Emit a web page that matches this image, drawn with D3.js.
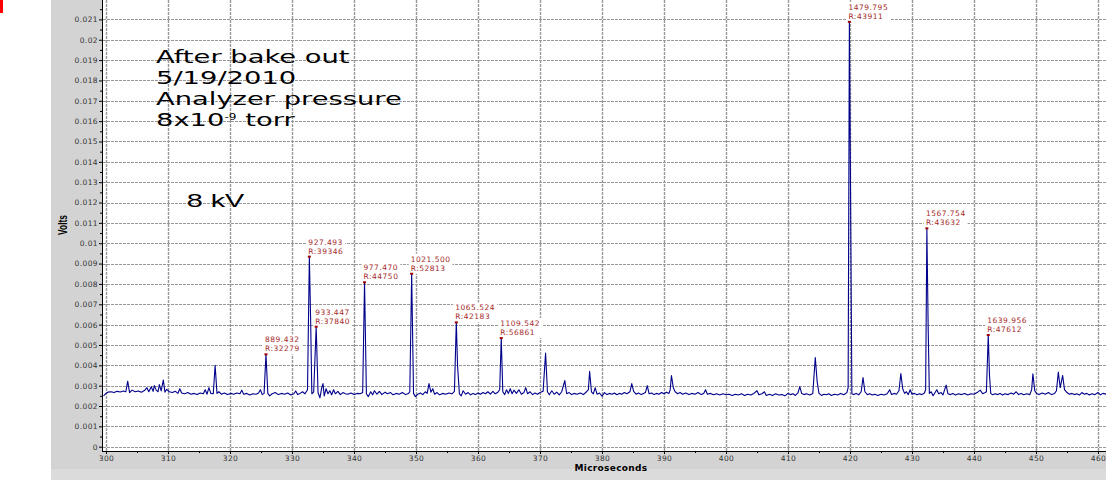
<!DOCTYPE html>
<html>
<head>
<meta charset="utf-8">
<script src="https://cdnjs.cloudflare.com/ajax/libs/d3/7.8.5/d3.min.js"></script>
<style>
  body { margin: 0; background: #fff; }
  text { font-family: "DejaVu Sans", Verdana, sans-serif; }
</style>
</head>
<body>
<div id="chart"></div>
<script>
// tick values of the two axes
const xTicks = [300, 310, 320, 330, 340, 350, 360, 370, 380, 390, 400, 410, 420, 430, 440, 450, 460];
const yTicks = [0, 0.001, 0.002, 0.003, 0.004, 0.005, 0.006, 0.007, 0.008, 0.009, 0.01,
  0.011, 0.012, 0.013, 0.014, 0.015, 0.016, 0.017, 0.018, 0.019, 0.02, 0.021];

// labelled peaks (time in microseconds, height in volts)
const peakTimes = [325.8, 332.8, 333.9, 341.7, 349.3, 356.5, 363.75, 419.9, 432.4, 442.3];
const peakVolts = [0.00454, 0.00934, 0.0059, 0.00808, 0.0085, 0.00611, 0.00534, 0.02088, 0.01073, 0.00549];
const peakMass = ['889.432', '927.493', '933.447', '977.470', '1021.500', '1065.524', '1109.542', '1479.795', '1567.754', '1639.956'];
const peakRes = ['R:32279', 'R:39346', 'R:37840', 'R:44750', 'R:52813', 'R:42183', 'R:56861', 'R:43911', 'R:43632', 'R:47612'];

// the trace: [microseconds, millivolts]
const trace = [
  [299.6, 2.50], [300.0, 2.62], [300.3, 2.68], [300.8, 2.70], [301.3, 2.66], [301.8, 2.72], [302.3, 2.69],
  [302.8, 2.74], [303.2, 2.70], [303.5, 3.22], [303.8, 2.66], [304.2, 2.78], [304.7, 2.70], [305.2, 2.74],
  [305.7, 2.68], [306.2, 2.76], [306.6, 2.90], [306.9, 2.70], [307.3, 2.95], [307.6, 2.72], [307.8, 3.00],
  [308.1, 2.78], [308.4, 2.70], [308.6, 3.05], [308.9, 2.74], [309.25, 3.28], [309.5, 2.68], [309.8, 2.82],
  [310.2, 2.70], [310.7, 2.66], [311.2, 2.72], [311.6, 2.62], [311.9, 2.85], [312.2, 2.64], [312.7, 2.60],
  [313.2, 2.66], [313.7, 2.58], [314.2, 2.62], [314.7, 2.56], [315.2, 2.64], [315.7, 2.60], [316.0, 2.80],
  [316.3, 2.58], [316.6, 2.90], [316.9, 2.62], [317.3, 2.60], [317.6, 4.00], [317.9, 2.62], [318.2, 2.70],
  [318.6, 2.58], [319.1, 2.64], [319.6, 2.56], [320.1, 2.62], [320.6, 2.58], [321.1, 2.64], [321.6, 2.60],
  [321.9, 2.78], [322.2, 2.58], [322.7, 2.62], [323.2, 2.54], [323.7, 2.60], [324.2, 2.58], [324.6, 2.64],
  [324.9, 2.80], [325.2, 2.56], [325.5, 2.62], [325.8, 4.54], [326.1, 2.62], [326.4, 2.50], [326.8, 2.60],
  [327.3, 2.66], [327.8, 2.56], [328.3, 2.62], [328.8, 2.58], [329.3, 2.64], [329.8, 2.54], [330.3, 2.60],
  [330.6, 2.74], [330.9, 2.56], [331.3, 2.62], [331.7, 2.70], [332.1, 2.60], [332.5, 2.80], [332.8, 9.34],
  [333.0, 6.30], [333.2, 2.60], [333.5, 2.70], [333.9, 5.90], [334.2, 2.65], [334.5, 2.40], [334.8, 2.90],
  [335.0, 3.10], [335.2, 2.50], [335.5, 2.85], [335.8, 2.60], [336.1, 2.75], [336.4, 2.55], [336.7, 2.80],
  [337.0, 2.60], [337.4, 2.72], [337.8, 2.56], [338.2, 2.66], [338.6, 2.60], [339.0, 2.58], [339.5, 2.64],
  [340.0, 2.56], [340.5, 2.62], [341.0, 2.60], [341.4, 2.66], [341.7, 8.08], [342.0, 2.60], [342.3, 2.46],
  [342.7, 2.70], [343.0, 2.55], [343.3, 2.75], [343.7, 2.58], [344.1, 2.72], [344.5, 2.56], [345.0, 2.68],
  [345.4, 2.60], [345.9, 2.66], [346.3, 2.55], [346.8, 2.62], [347.3, 2.58], [347.8, 2.66], [348.3, 2.56],
  [348.8, 2.62], [349.0, 2.70], [349.3, 8.50], [349.6, 2.62], [349.9, 2.46], [350.3, 2.58], [350.7, 2.64],
  [351.1, 2.56], [351.5, 2.70], [351.8, 2.62], [352.1, 3.10], [352.4, 2.68], [352.7, 2.85], [353.0, 2.58],
  [353.4, 2.66], [353.8, 2.55], [354.3, 2.62], [354.8, 2.58], [355.3, 2.64], [355.8, 2.60], [356.2, 2.72],
  [356.5, 6.11], [356.7, 4.00], [357.0, 2.60], [357.3, 2.50], [357.6, 2.75], [358.0, 2.58], [358.4, 2.66],
  [358.8, 2.55], [359.2, 2.62], [359.6, 2.56], [360.0, 2.64], [360.4, 2.58], [360.8, 2.66], [361.2, 2.60],
  [361.6, 2.70], [362.0, 2.58], [362.4, 2.72], [362.8, 2.60], [363.2, 2.68], [363.5, 2.80], [363.75, 5.34],
  [364.0, 2.70], [364.3, 2.56], [364.6, 2.80], [364.9, 2.62], [365.2, 2.85], [365.5, 2.60], [365.8, 2.78],
  [366.2, 2.62], [366.6, 2.80], [367.0, 2.58], [367.4, 2.66], [367.7, 2.90], [368.0, 2.60], [368.4, 2.70],
  [368.8, 2.56], [369.2, 2.64], [369.6, 2.58], [370.0, 2.66], [370.5, 2.72], [370.9, 4.60], [371.2, 2.70],
  [371.5, 2.55], [371.9, 2.75], [372.3, 2.58], [372.7, 2.68], [373.1, 2.55], [373.5, 2.70], [374.0, 3.25],
  [374.3, 2.60], [374.7, 2.66], [375.1, 2.56], [375.5, 2.62], [376.0, 2.58], [376.5, 2.64], [377.0, 2.56],
  [377.5, 2.70], [377.8, 2.80], [378.0, 3.70], [378.3, 2.70], [378.6, 2.60], [378.9, 2.90], [379.2, 2.58],
  [379.6, 2.64], [380.0, 2.48], [380.4, 2.66], [380.8, 2.56], [381.2, 2.62], [381.6, 2.58], [382.0, 2.64],
  [382.4, 2.55], [382.8, 2.62], [383.2, 2.58], [383.6, 2.66], [384.0, 2.60], [384.5, 2.70], [384.8, 3.10],
  [385.1, 2.72], [385.5, 2.58], [385.9, 2.64], [386.3, 2.56], [386.7, 2.62], [387.0, 2.66], [387.3, 3.00],
  [387.6, 2.60], [388.0, 2.64], [388.4, 2.56], [388.8, 2.62], [389.2, 2.58], [389.6, 2.66], [390.0, 2.60],
  [390.4, 2.68], [390.8, 2.62], [391.0, 2.80], [391.2, 3.50], [391.5, 2.90], [391.8, 2.70], [392.2, 2.60],
  [392.6, 2.66], [393.0, 2.58], [393.5, 2.64], [394.0, 2.56], [394.5, 2.62], [395.0, 2.58], [395.5, 2.66],
  [396.0, 2.56], [396.4, 2.62], [396.7, 2.80], [397.0, 2.58], [397.5, 2.62], [398.0, 2.55], [398.5, 2.60],
  [399.0, 2.54], [399.5, 2.60], [400.0, 2.55], [400.5, 2.58], [401.0, 2.52], [401.5, 2.58], [402.0, 2.54],
  [402.5, 2.60], [403.0, 2.52], [403.5, 2.58], [404.0, 2.54], [404.5, 2.62], [405.0, 2.75], [405.3, 2.55],
  [405.8, 2.60], [406.2, 2.70], [406.5, 2.52], [407.0, 2.58], [407.5, 2.52], [408.0, 2.60], [408.5, 2.54],
  [409.0, 2.56], [409.5, 2.50], [410.0, 2.62], [410.4, 2.56], [410.8, 2.60], [411.2, 2.52], [411.6, 2.64],
  [411.9, 2.95], [412.2, 2.62], [412.6, 2.56], [413.0, 2.60], [413.5, 2.54], [414.0, 2.62], [414.4, 4.38],
  [414.7, 3.20], [415.0, 2.62], [415.4, 2.52], [415.8, 2.58], [416.2, 2.55], [416.6, 2.60], [417.0, 2.52],
  [417.5, 2.58], [418.0, 2.54], [418.5, 2.62], [419.0, 2.55], [419.5, 2.66], [419.7, 2.90], [419.9, 20.88],
  [420.1, 12.00], [420.3, 2.60], [420.6, 2.56], [421.0, 2.62], [421.4, 2.55], [421.8, 2.70], [422.1, 3.40],
  [422.4, 2.70], [422.8, 2.56], [423.2, 2.60], [423.6, 2.54], [424.0, 2.58], [424.5, 2.52], [425.0, 2.58],
  [425.5, 2.54], [426.0, 2.60], [426.4, 2.80], [426.7, 2.56], [427.1, 2.62], [427.5, 2.58], [427.9, 2.75],
  [428.2, 3.60], [428.5, 2.85], [428.8, 2.62], [429.1, 2.70], [429.4, 2.56], [429.7, 2.80], [430.0, 2.58],
  [430.4, 2.62], [430.8, 2.55], [431.2, 2.60], [431.6, 2.56], [432.0, 2.64], [432.2, 2.80], [432.4, 10.73],
  [432.6, 6.00], [432.8, 2.62], [433.1, 2.70], [433.4, 2.50], [433.7, 2.65], [434.0, 2.80], [434.3, 2.60],
  [434.7, 2.66], [435.0, 2.55], [435.5, 3.03], [435.8, 2.60], [436.2, 2.56], [436.6, 2.62], [437.0, 2.54],
  [437.5, 2.60], [438.0, 2.56], [438.5, 2.62], [439.0, 2.54], [439.5, 2.60], [440.0, 2.58], [440.5, 2.66],
  [441.0, 2.78], [441.4, 2.60], [441.8, 2.66], [442.0, 2.70], [442.3, 5.49], [442.5, 3.50], [442.7, 2.62],
  [443.0, 2.55], [443.4, 2.60], [443.8, 2.56], [444.2, 2.62], [444.6, 2.54], [445.0, 2.60], [445.5, 2.56],
  [446.0, 2.64], [446.4, 2.58], [446.8, 2.70], [447.2, 2.56], [447.6, 2.62], [448.0, 2.55], [448.5, 2.60],
  [449.0, 2.56], [449.3, 2.80], [449.5, 3.58], [449.8, 2.75], [450.1, 2.62], [450.5, 2.56], [451.0, 2.64],
  [451.5, 2.58], [452.0, 2.66], [452.5, 2.56], [453.0, 2.62], [453.3, 2.75], [453.6, 3.67], [453.9, 2.90],
  [454.3, 3.50], [454.6, 2.80], [455.0, 2.66], [455.4, 2.58], [455.8, 2.62], [456.2, 2.56], [456.6, 2.60],
  [457.0, 2.54], [457.4, 2.66], [457.8, 2.58], [458.2, 2.62], [458.6, 2.54], [459.0, 2.60], [459.5, 2.56],
  [460.0, 2.66], [460.4, 2.55], [460.8, 2.62], [461.3, 2.58]
];

const width = 1106;
const height = 480;

const svg = d3.select('#chart')
  .append('svg')
  .attr('width', width)
  .attr('height', height);

// grey frame behind the plot, with the lighter strip at the bottom
svg.append('rect')
  .attr('x', 51).attr('y', 0)
  .attr('width', width - 51).attr('height', height)
  .attr('fill', '#d3d3d3');
svg.append('rect')
  .attr('x', 51).attr('y', 469)
  .attr('width', width - 51).attr('height', height - 469)
  .attr('fill', '#dbdbdb');

// little red mark in the corner
svg.append('rect')
  .attr('x', 0).attr('y', 0)
  .attr('width', 3).attr('height', 13)
  .attr('fill', '#ff0000');

const plot = { left: 102, right: width, top: 0, bottom: 451 };

svg.append('rect')
  .attr('x', plot.left).attr('y', plot.top)
  .attr('width', plot.right - plot.left).attr('height', plot.bottom - plot.top)
  .attr('fill', '#fff');

svg.append('clipPath').attr('id', 'plot-clip')
  .append('rect')
  .attr('x', plot.left).attr('y', plot.top)
  .attr('width', plot.right - plot.left).attr('height', plot.bottom - plot.top);

const x = d3.scaleLinear().domain([300, 460]).range([106, 1098]);
const y = d3.scaleLinear().domain([0, 0.021]).range([446.7, 19.4]);

// dashed grid
const grid = svg.append('g').attr('clip-path', 'url(#plot-clip)')
  .attr('stroke', '#999')
  .attr('stroke-width', 1)
  .attr('stroke-dasharray', '3,1');

grid.selectAll('.hgrid')
  .data(yTicks)
  .enter()
  .append('line')
  .attr('x1', plot.left + 1).attr('x2', plot.right)
  .attr('y1', d => Math.round(y(d)) + 0.5)
  .attr('y2', d => Math.round(y(d)) + 0.5);

grid.selectAll('.vgrid')
  .data(xTicks)
  .enter()
  .append('line')
  .attr('y1', plot.top).attr('y2', plot.bottom)
  .attr('x1', d => Math.round(x(d)) + 0.5)
  .attr('x2', d => Math.round(x(d)) + 0.5)
  .attr('stroke-width', 1.4);

// axes
const yAxis = d3.axisLeft(y)
  .tickValues(yTicks)
  .tickFormat(d3.format('~g'))
  .tickSize(3)
  .tickPadding(1);

const yMinor = d3.axisLeft(y)
  .tickValues(yTicks.map(d => d + 0.0005))
  .tickFormat('')
  .tickSize(2);

const xAxis = d3.axisBottom(x)
  .tickValues(xTicks)
  .tickSize(3)
  .tickPadding(2);

const xMinor = d3.axisBottom(x)
  .tickValues(xTicks.map(d => d + 5))
  .tickFormat('')
  .tickSize(2);

function styleAxis(g) {
  g.select('.domain').remove();
  g.selectAll('.tick line').attr('stroke', '#000');
  g.selectAll('.tick text')
    .attr('fill', '#333')
    .style('font-size', '7.5px')
    .style('letter-spacing', '0.4px');
}

svg.append('g').attr('transform', `translate(${plot.left},0)`).call(yAxis).call(styleAxis);
svg.append('g').attr('transform', `translate(${plot.left},0)`).call(yMinor).call(styleAxis);
svg.append('g').attr('transform', `translate(0,${plot.bottom})`).call(xAxis).call(styleAxis);
svg.append('g').attr('transform', `translate(0,${plot.bottom})`).call(xMinor).call(styleAxis);

// axis lines
svg.append('line')
  .attr('x1', plot.left + 0.5).attr('x2', plot.left + 0.5)
  .attr('y1', plot.top).attr('y2', plot.bottom)
  .attr('stroke', '#000');
svg.append('line')
  .attr('x1', plot.left).attr('x2', plot.right)
  .attr('y1', plot.bottom + 0.5).attr('y2', plot.bottom + 0.5)
  .attr('stroke', '#000');

// axis titles
svg.append('text')
  .attr('x', 611).attr('y', 470.5)
  .attr('text-anchor', 'middle')
  .style('font-size', '9px')
  .style('font-weight', 'bold')
  .style('letter-spacing', '0.3px')
  .text('Microseconds');

svg.append('text')
  .attr('transform', 'translate(63,225) rotate(-90) scale(0.7,1)')
  .attr('text-anchor', 'middle')
  .attr('dy', '0.35em')
  .style('font-family', '"Liberation Sans", Arial, sans-serif')
  .style('font-size', '12px')
  .style('font-weight', 'bold')
  .text('Volts');

// peak labels, white box behind so the grid is hidden
const labels = svg.append('g');
peakTimes.forEach((t, i) => {
  const px = x(t);
  const py = y(peakVolts[i]);
  const g = labels.append('g');
  const box = g.append('rect').attr('fill', '#fff');
  const txt = g.append('text')
    .attr('y', py - 12)
    .attr('fill', '#a52a2a')
    .style('font-size', '7.5px')
    .style('letter-spacing', '0.5px');
  txt.append('tspan').attr('x', px - 1).text(peakMass[i]);
  txt.append('tspan').attr('x', px - 1).attr('dy', 9).text(peakRes[i]);
  const bb = txt.node().getBBox();
  box.attr('x', bb.x - 2).attr('y', bb.y - 1)
    .attr('width', bb.width + 4).attr('height', bb.height + 2);
});

// the trace
const line = d3.line()
  .x(d => x(d[0]))
  .y(d => y(d[1] / 1000));

svg.append('path')
  .datum(trace)
  .attr('clip-path', 'url(#plot-clip)')
  .attr('fill', 'none')
  .attr('stroke', '#00008b')
  .attr('stroke-width', 1.1)
  .attr('stroke-linejoin', 'round')
  .attr('d', line);

// small markers on top of the labelled peaks
svg.selectAll('.peak-mark')
  .data(peakTimes)
  .enter()
  .append('rect')
  .attr('x', d => x(d) - 1.5)
  .attr('y', (d, i) => y(peakVolts[i]) - 1)
  .attr('width', 3)
  .attr('height', 2)
  .attr('fill', '#a00000');

// the note typed over the plot, it is stretched wide in the original
const noteLines = ['After bake out', '5/19/2010', 'Analyzer pressure'];
const note = svg.append('g')
  .attr('transform', 'translate(156,0) scale(1.52,1)')
  .style('font-family', '"Liberation Sans", Arial, sans-serif')
  .style('font-size', '18px');

noteLines.forEach((s, i) => {
  note.append('text').attr('x', 0).attr('y', 62.7 + i * 21).text(s);
});

const pressure = note.append('text').attr('x', 0).attr('y', 125.7);
pressure.append('tspan').text('8x10');
pressure.append('tspan').attr('dy', -6).style('font-size', '8px').text('-9');
pressure.append('tspan').attr('dy', 6).text(' torr');

svg.append('text')
  .attr('transform', 'translate(186.7,206.7) scale(1.6,1)')
  .style('font-family', '"Liberation Sans", Arial, sans-serif')
  .style('font-size', '18px')
  .text('8 kV');
</script>
</body>
</html>
